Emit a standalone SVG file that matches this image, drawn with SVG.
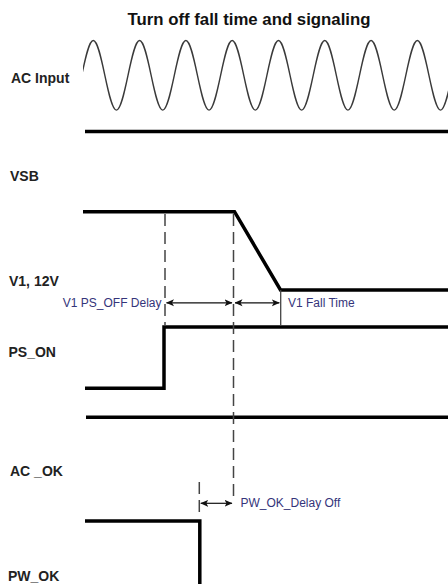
<svg xmlns="http://www.w3.org/2000/svg" width="448" height="584" viewBox="0 0 448 584">
<style>
.title{font-family:"Liberation Sans",Arial,sans-serif;font-weight:bold;font-size:16.8px;fill:#111}
.lbl{font-family:"Liberation Sans",Arial,sans-serif;font-weight:bold;font-size:14px;fill:#222}
.ann{font-family:"Liberation Sans",Arial,sans-serif;font-size:12px;fill:#34347a}
.sig{fill:none;stroke:#000;stroke-width:3.5;stroke-linejoin:miter}
.dash{fill:none;stroke:#444;stroke-width:1.5;stroke-dasharray:12 6}
.tick{fill:none;stroke:#444;stroke-width:1.3}
.dim{fill:none;stroke:#111;stroke-width:1.2;marker-start:url(#ah);marker-end:url(#ah)}
</style>
<defs>
<marker id="ah" viewBox="0 0 8 8" refX="7.5" refY="4" markerWidth="8" markerHeight="8" markerUnits="userSpaceOnUse" orient="auto-start-reverse">
<path d="M0,0.5 L8,4 L0,7.5 L2,4 z" fill="#111"/>
</marker>
<clipPath id="wclip"><rect x="83" y="0" width="365" height="140"/></clipPath>
</defs>
<rect width="448" height="584" fill="#fff"/>
<text class="title" x="249" y="25" text-anchor="middle">Turn off fall time and signaling</text>

<g id="ac_input">
<text class="lbl" x="11" y="82.5">AC Input</text>
<path clip-path="url(#wclip)" fill="none" stroke="#3a3a3a" stroke-width="1.4" d="M81.7,75.3 c3.775,-17.83 7.386,-34.8 11.575,-34.8 s7.8,16.97 11.575,34.8 s7.386,34.8 11.575,34.8 s7.8,-16.97 11.575,-34.8 s7.386,-34.8 11.575,-34.8 s7.8,16.97 11.575,34.8 s7.386,34.8 11.575,34.8 s7.8,-16.97 11.575,-34.8 s7.386,-34.8 11.575,-34.8 s7.8,16.97 11.575,34.8 s7.386,34.8 11.575,34.8 s7.8,-16.97 11.575,-34.8 s7.386,-34.8 11.575,-34.8 s7.8,16.97 11.575,34.8 s7.386,34.8 11.575,34.8 s7.8,-16.97 11.575,-34.8 s7.386,-34.8 11.575,-34.8 s7.8,16.97 11.575,34.8 s7.386,34.8 11.575,34.8 s7.8,-16.97 11.575,-34.8 s7.386,-34.8 11.575,-34.8 s7.8,16.97 11.575,34.8 s7.386,34.8 11.575,34.8 s7.8,-16.97 11.575,-34.8 s7.386,-34.8 11.575,-34.8 s7.8,16.97 11.575,34.8 s7.386,34.8 11.575,34.8 s7.8,-16.97 11.575,-34.8 s7.386,-34.8 11.575,-34.8 s7.8,16.97 11.575,34.8 s7.386,34.8 11.575,34.8 s7.8,-16.97 11.575,-34.8"/>
</g>

<g id="vsb">
<text class="lbl" x="10" y="181">VSB</text>
<line class="sig" x1="85" y1="131.5" x2="448" y2="131.5" stroke-width="4"/>
</g>

<g id="v1">
<text class="lbl" x="9" y="286">V1, 12V</text>
<path class="sig" d="M83,211.7 H234.5 L280.5,290 H448"/>
</g>

<g id="ps_on">
<text class="lbl" x="8.5" y="357">PS_ON</text>
<path class="sig" d="M85,388.3 H164 V327 H448"/>
</g>

<g id="ac_ok">
<text class="lbl" x="10" y="476">AC _OK</text>
<line class="sig" x1="86" y1="417.3" x2="448" y2="417.3"/>
</g>

<g id="pw_ok">
<text class="lbl" x="8" y="580.5">PW_OK</text>
<path class="sig" d="M85,521 H199.8 V584"/>
</g>

<g id="connectors">
<line class="dash" x1="165" y1="214" x2="165" y2="326"/>
<line class="dash" x1="233.5" y1="214" x2="233.5" y2="502"/>
<line class="tick" x1="280.7" y1="290" x2="280.7" y2="325"/>
<line class="dash" x1="199.3" y1="482" x2="199.3" y2="516" stroke-dasharray="11 5"/>
<line class="dim" x1="166.5" y1="302.8" x2="232" y2="302.8"/>
<line class="dim" x1="235" y1="302.8" x2="279.3" y2="302.8"/>
<line class="dim" x1="200.8" y1="503.3" x2="232" y2="503.3"/>
<text class="ann" x="161.5" y="306.8" text-anchor="end">V1 PS_OFF Delay</text>
<text class="ann" x="288" y="306.8">V1 Fall Time</text>
<text class="ann" x="240.5" y="507.3">PW_OK_Delay Off</text>
</g>
</svg>
